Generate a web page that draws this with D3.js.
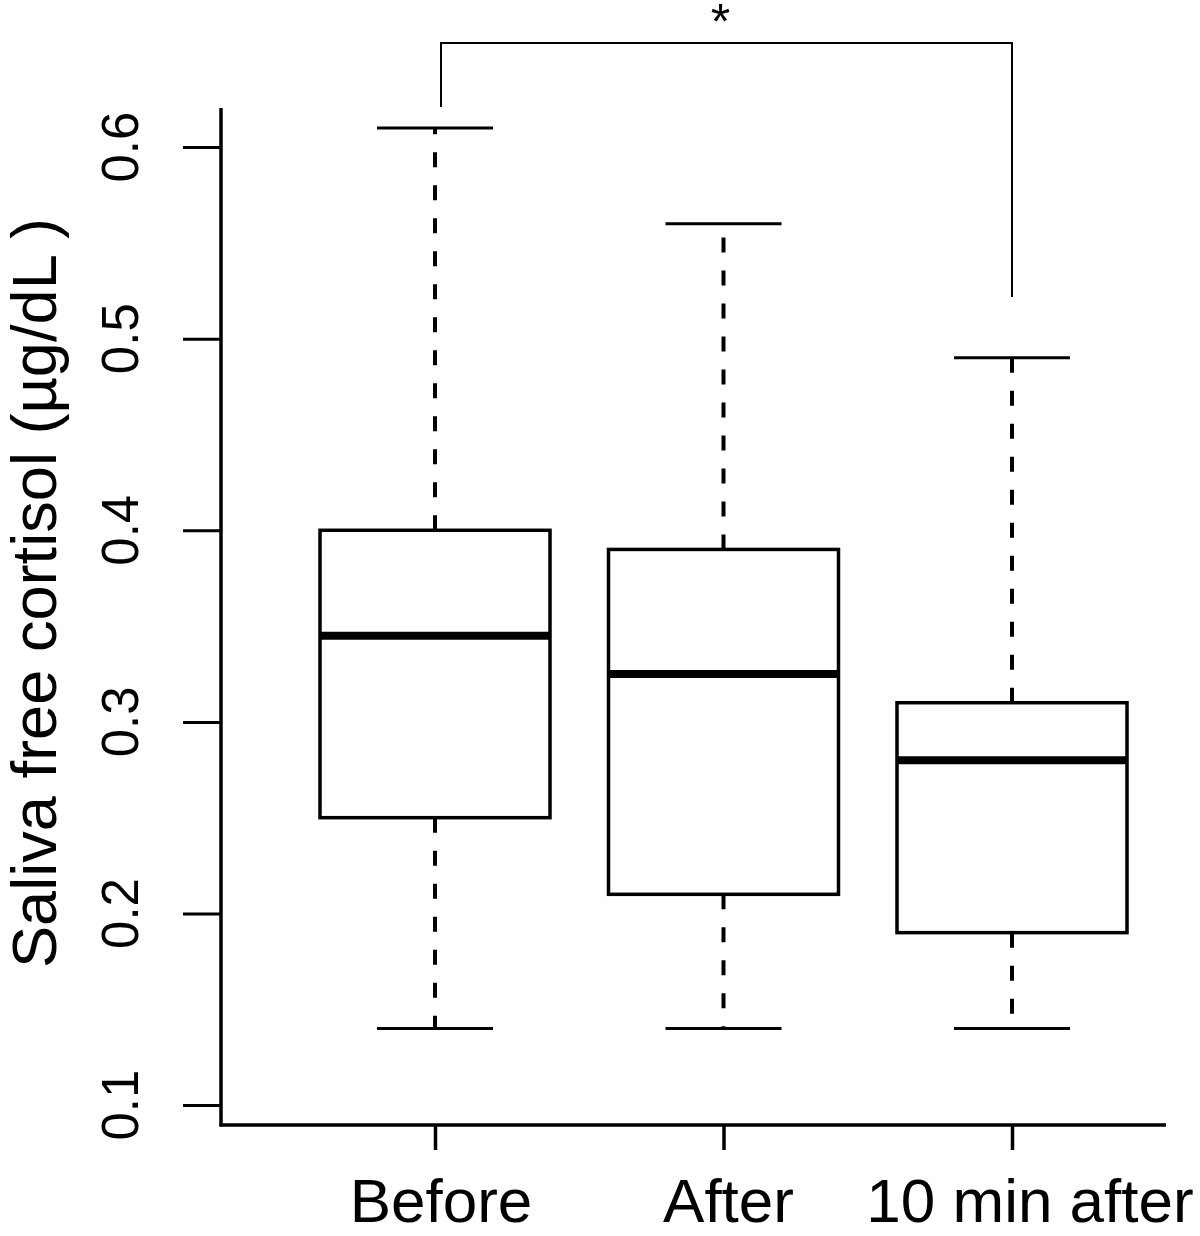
<!DOCTYPE html>
<html>
<head>
<meta charset="utf-8">
<script src="https://cdn.jsdelivr.net/npm/d3@7/dist/d3.min.js"></script>
<style>
  html, body { margin: 0; padding: 0; background: #fff; }
  svg { display: block; font-family: "Liberation Sans", Arial, Helvetica, sans-serif; }
</style>
</head>
<body>
<svg id="chart" width="1200" height="1236"></svg>
<script>
// ---- data ----
const categories = ["Before", "After", "10 min after"];
const whiskerLow  = [0.14, 0.14, 0.14];
const q1          = [0.25, 0.21, 0.19];
const median      = [0.345, 0.325, 0.28];
const q3          = [0.40, 0.39, 0.31];
const whiskerHigh = [0.61, 0.56, 0.49];
const yTicks = [0.1, 0.2, 0.3, 0.4, 0.5, 0.6];
const yTickLabels = ["0.1", "0.2", "0.3", "0.4", "0.5", "0.6"];
const yTitle = "Saliva free cortisol (\u00B5g/dL )";
const sigPair = ["Before", "10 min after"];
const sigLabel = "*";

// ---- layout ----
const svg = d3.select("#chart");
const axisLeftX = 221, axisBottomY = 1125, axisRightX = 1166, axisTopY = 108;

const x = d3.scalePoint().domain(categories).range([435, 1012]);
const y = d3.scaleLinear().domain([0.0896, 0.6204]).range([axisBottomY, axisTopY]);

const boxHalf = 115;
const capHalf = 58;

// y axis
const yAxis = d3.axisLeft(y).tickValues(yTicks).tickSize(38).tickFormat(() => "");
const gy = svg.append("g").attr("transform", `translate(${axisLeftX},0)`).call(yAxis);
gy.select(".domain").remove();
gy.selectAll(".tick line").attr("stroke", "#000").attr("stroke-width", 3);
svg.append("line")
  .attr("x1", axisLeftX).attr("x2", axisLeftX)
  .attr("y1", axisTopY).attr("y2", axisBottomY + 1.5)
  .attr("stroke", "#000").attr("stroke-width", 3.5);

// y tick labels (rotated)
svg.append("g").selectAll("text")
  .data(yTicks)
  .join("text")
  .attr("transform", (d) => `translate(138,${y(d)}) rotate(-90)`)
  .attr("text-anchor", "middle")
  .attr("font-size", 51)
  .attr("fill", "#000")
  .text((d, i) => yTickLabels[i]);

// x axis
const xAxis = d3.axisBottom(x).tickSize(25).tickFormat(() => "");
const gx = svg.append("g").attr("transform", `translate(0,${axisBottomY})`).call(xAxis);
gx.select(".domain").remove();
gx.selectAll(".tick line").attr("stroke", "#000").attr("stroke-width", 3.5);
svg.append("line")
  .attr("x1", axisLeftX - 1.5).attr("x2", axisRightX)
  .attr("y1", axisBottomY).attr("y2", axisBottomY)
  .attr("stroke", "#000").attr("stroke-width", 3.5);

// x labels
const labelDx = [6, 5, 18];
svg.append("g").selectAll("text")
  .data(categories)
  .join("text")
  .attr("x", (d, i) => x(d) + labelDx[i])
  .attr("y", 1222)
  .attr("text-anchor", "middle")
  .attr("font-size", 62)
  .attr("fill", "#000")
  .text((d) => d);

// y title
svg.append("text")
  .attr("transform", `translate(56,593) rotate(-90)`)
  .attr("text-anchor", "middle")
  .attr("font-size", 63)
  .attr("textLength", 750)
  .attr("lengthAdjust", "spacingAndGlyphs")
  .attr("fill", "#000")
  .text(yTitle);

// boxes
const boxes = svg.append("g");
categories.forEach((c, i) => {
  const cx = x(c);
  const g = boxes.append("g");
  // whiskers (dashed)
  g.append("line")
    .attr("x1", cx).attr("x2", cx)
    .attr("y1", y(q3[i])).attr("y2", y(whiskerHigh[i]))
    .attr("stroke", "#000").attr("stroke-width", 4)
    .attr("stroke-dasharray", "15,18");
  g.append("line")
    .attr("x1", cx).attr("x2", cx)
    .attr("y1", y(q1[i])).attr("y2", y(whiskerLow[i]))
    .attr("stroke", "#000").attr("stroke-width", 4)
    .attr("stroke-dasharray", "15,18");
  // caps
  [whiskerHigh[i], whiskerLow[i]].forEach((v) => {
    g.append("line")
      .attr("x1", cx - capHalf).attr("x2", cx + capHalf)
      .attr("y1", y(v)).attr("y2", y(v))
      .attr("stroke", "#000").attr("stroke-width", 3);
  });
  // box
  g.append("rect")
    .attr("x", cx - boxHalf).attr("width", boxHalf * 2)
    .attr("y", y(q3[i])).attr("height", y(q1[i]) - y(q3[i]))
    .attr("fill", "#fff").attr("stroke", "#000").attr("stroke-width", 3.5);
  // median
  g.append("line")
    .attr("x1", cx - boxHalf).attr("x2", cx + boxHalf)
    .attr("y1", y(median[i])).attr("y2", y(median[i]))
    .attr("stroke", "#000").attr("stroke-width", 8);
});

// significance bracket
const xa = x(sigPair[0]) + 6, xb = x(sigPair[1]);
const bracketY = 43;
svg.append("path")
  .attr("d", `M${xa},${y(0.6204) - 1} V${bracketY} H${xb} V${297}`)
  .attr("fill", "none").attr("stroke", "#000").attr("stroke-width", 2);
svg.append("text")
  .attr("x", (xa + xb) / 2 - 6)
  .attr("y", 39)
  .attr("text-anchor", "middle")
  .attr("font-size", 50)
  .attr("fill", "#000")
  .text(sigLabel);
</script>
</body>
</html>
